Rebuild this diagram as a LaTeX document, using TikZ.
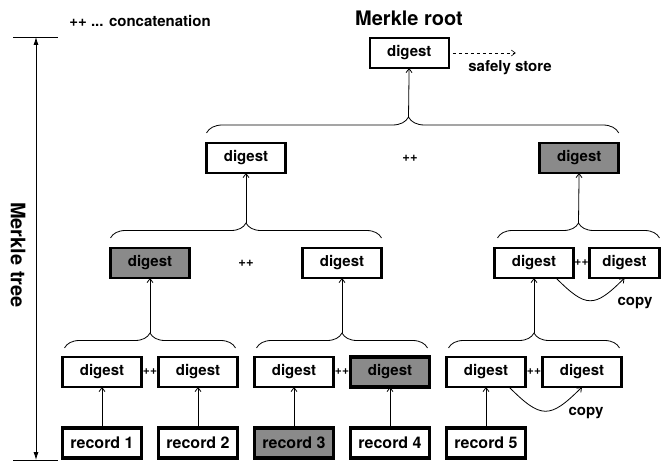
\documentclass[tikz,border=0pt]{standalone}
\usepackage{fontspec}
\setmainfont{TeX Gyre Heros}
\usetikzlibrary{arrows.meta,positioning,calc,decorations.pathreplacing}
\definecolor{boxgrey}{RGB}{138,138,138}

\begin{document}
\begin{tikzpicture}[x=1pt,y=-1pt,>={Straight Barb[length=4pt,width=6pt]},node distance=41pt and 17pt,
  font=\fontsize{15}{18}\selectfont\bfseries,
  box/.style={draw,line width=2.2pt,outer sep=0pt,minimum width=79pt,minimum height=30pt,inner sep=1pt},
  rec/.style={box,line width=3.3pt,font=\fontsize{16}{18}\selectfont\bfseries},
  shaded/.style={fill=boxgrey},
  cat/.style={inner sep=0pt,font=\fontsize{12}{13}\selectfont\bfseries},
  bra/.style={decorate,decoration={brace,amplitude=15pt},line width=0.8pt},
  link/.style={->,line width=0.8pt}]
\useasboundingbox (0,0) rectangle (664,462);

% records and leaf digests
\node[rec] (r1) at (102,443) {record 1};
\node[rec,right=of r1] (r2) {record 2};
\node[rec,shaded,right=of r2] (r3) {record 3};
\node[rec,right=of r3] (r4) {record 4};
\node[rec,right=of r4] (r5) {record 5};
\node[box,above=of r1] (d1) {digest};
\node[box,above=of r2] (d2) {digest};
\node[box,above=of r3] (d3) {digest};
\node[box,shaded,line width=3.3pt,above=of r4] (d4) {digest};
\node[box,above=of r5] (d5) {digest};
\node[box,right=of d5] (d6) {digest};
\foreach \i in {1,...,5} \draw[link] (r\i) -- (d\i);
\path (d1) -- node[cat] (c1) {++} (d2);
\path (d3) -- node[cat] (c2) {++} (d4);
\path (d5) -- node[cat] (c3) {++} (d6);
\draw[link] ([xshift=23pt]d5.south) to[out=-45,in=-135,looseness=1.6] (d6.south);
\node (cp1) at (586,413) {copy};

% second level
\node[box,shaded] (m1) at ($(d1)!.5!(d2)+(0,-109)$) {digest};
\node[box] (m2) at ($(d3)!.5!(d4)+(0,-109)$) {digest};
\node[box] (m3) at ($(d5)!.5!(d6)+(0,-109)$) {digest};
\node[box,minimum width=70pt,right=16pt of m3] (m4) {digest};
\draw[bra] ([shift={(2pt,9pt)}]d1.north west) -- coordinate[pos=.5,yshift=15pt] (t1) ([shift={(-2pt,9pt)}]d2.north east);
\draw[bra] ([shift={(2pt,9pt)}]d3.north west) -- coordinate[pos=.5,yshift=15pt] (t2) ([shift={(-2pt,9pt)}]d4.north east);
\draw[bra] ([shift={(2pt,9pt)}]d5.north west) -- coordinate[pos=.5,yshift=15pt] (t3) ([shift={(-2pt,9pt)}]d6.north east);
\draw[link] (t1) -- (m1);
\draw[link] (t2) -- (m2);
\draw[link] (t3) -- (m3);
\path (m1) -- node[cat,font=\fontsize{13}{14}\selectfont\bfseries] (c4) {++} (m2);
\path (m3) -- node[cat] (c5) {++} (m4);
\draw[link] ([xshift=22pt]m3.south) to[out=-45,in=-135,looseness=1.6] (m4.south);
\node (cp2) at (635,303) {copy};

% third level
\node[box] (n1) at ($(m1)!.5!(m2)+(0,-105)$) {digest};
\node[box,shaded,line width=2.6pt] (n2) at ($(m3)!.5!(m4)+(0,-105)$) {digest};
\draw[bra] ([shift={(0pt,10pt)}]m1.north west) -- coordinate[pos=.5,yshift=15pt] (t4) ([shift={(0pt,10pt)}]m2.north east);
\draw[bra] ([shift={(3pt,10pt)}]m3.north west) -- coordinate[pos=.5,yshift=15pt] (t5) ([shift={(0pt,10pt)}]m4.north east);
\draw[link] (t4) -- (n1);
\draw[link] (t5) -- (n2);
\path (n1) -- node[pos=.49,cat,font=\fontsize{13}{14}\selectfont\bfseries] (c6) {++} (n2);

% root
\node[box] (root) at ($(n1)!.49!(n2)+(0,-105)$) {digest};
\draw[bra,decoration={amplitude=16pt,aspect=.49}] ([yshift=10pt]n1.north west) -- coordinate[pos=.49,yshift=16pt] (t6) ([yshift=10pt]n2.north east);
\draw[link] (t6) -- (root);
\node[font=\fontsize{20}{22}\selectfont\bfseries] (mroot) at (409,18) {Merkle root};
\coordinate[right=67pt of root] (store);
\draw[->,dashed,line width=0.6pt] ([xshift=4pt]root.east) -- (store);
\node (safe) at (510,68) {safely store};

% legend and tree height
\node (legend) at (140,21) {++ ... concatenation};
\coordinate (tt) at (36,37);
\coordinate (tb) at (36,460);
\draw[line width=0.8pt] ([xshift=-23pt]tt) -- ([xshift=22pt]tt);
\draw[line width=0.8pt] ([xshift=-23pt]tb) -- ([xshift=22pt]tb);
\draw[{Latex[length=8pt,width=5pt]}-{Latex[length=8pt,width=5pt]},line width=0.8pt] (tt) -- (tb);
\node[rotate=-90,font=\fontsize{20}{22}\selectfont\bfseries] (mtree) at (18,255) {Merkle tree};
\end{tikzpicture}
\end{document}
